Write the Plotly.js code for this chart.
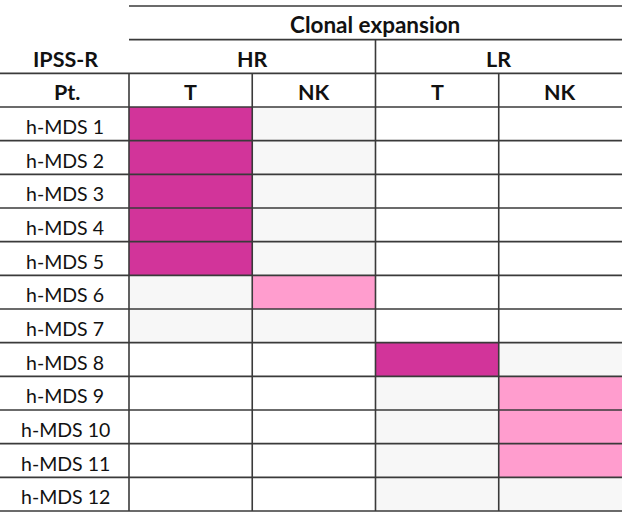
<!DOCTYPE html>
<html>
<head>
<meta charset="utf-8">
<script src="https://cdn.plot.ly/plotly-3.0.1.min.js"></script>
<style>html,body{margin:0;padding:0;background:#fff;}#chart{width:629px;height:515px;}</style>
</head>
<body>
<div id="chart"></div>
<script>
// ---- data ----
const patients = ["h-MDS 1","h-MDS 2","h-MDS 3","h-MDS 4","h-MDS 5","h-MDS 6","h-MDS 7","h-MDS 8","h-MDS 9","h-MDS 10","h-MDS 11","h-MDS 12"];
const riskGroups = ["HR","LR"];
const cellTypes = ["T","NK","T","NK"];
// cell state per column: 0 = blank, 1 = shaded (group), 2 = NK expansion, 3 = T expansion
const hrT  = [3,3,3,3,3,1,1,0,0,0,0,0];
const hrNK = [1,1,1,1,1,2,1,0,0,0,0,0];
const lrT  = [0,0,0,0,0,0,0,3,1,1,1,1];
const lrNK = [0,0,0,0,0,0,0,1,2,2,2,1];
const headerTitle = "Clonal expansion";
const groupLabel = "IPSS-R";
const rowHeader = "Pt.";

// ---- build ----
const cols = [hrT, hrNK, lrT, lrNK];
const nRows = patients.length, nCols = cols.length;
const z = patients.map((_, r) => cols.map(c => c[r]));
const cs = [[0,"#ffffff"],[0.25,"#ffffff"],[0.25,"#f7f7f7"],[0.5,"#f7f7f7"],[0.5,"#ff9dce"],[0.75,"#ff9dce"],[0.75,"#d2349a"],[1,"#d2349a"]];

const trace = {
  type: "heatmap",
  z: z,
  x: [0,1,2,3],
  y: patients.map((_, i) => i),
  zmin: -0.5, zmax: 3.5,
  colorscale: cs,
  showscale: false,
  hoverinfo: "skip",
  xgap: 0, ygap: 0
};

// axis geometry (units: one cell per unit)
const xr = [-1.5467, 3.557];
const yr = [11.619, -3.678];
const xLeft = xr[0];
const lineColor = "#3a3a3a";
const lw = 1.6;
const shapes = [];
function hline(y, x0, x1) { shapes.push({type:"line", xref:"x", yref:"y", x0:x0, x1:x1, y0:y, y1:y, line:{color:lineColor, width:lw}}); }
function vline(x, y0, y1) { shapes.push({type:"line", xref:"x", yref:"y", x0:x, x1:x, y0:y0, y1:y1, line:{color:lineColor, width:lw}}); }
hline(-3.5, -0.5, nCols - 0.5);
hline(-2.5, -0.5, nCols - 0.5);
hline(-1.5, xLeft, nCols - 0.5);
for (let r = 0; r <= nRows; r++) hline(r - 0.5, xLeft, nCols - 0.5);
vline(-0.5, -1.5, nRows - 0.5);
vline(0.5, -1.5, nRows - 0.5);
vline(1.5, -2.5, nRows - 0.5);
vline(2.5, -1.5, nRows - 0.5);

const fontFam = "Lato, 'Liberation Sans', sans-serif";
const labelX = xLeft + 65 / 123.25;
const annotations = [];
function ann(x, y, text, bold, size) {
  annotations.push({x:x, y:y, xref:"x", yref:"y", text: bold ? "<b>"+text+"</b>" : text, showarrow:false,
    xanchor:"center", yanchor:"middle", font:{family:fontFam, size:size, color:"#111"}});
}
patients.forEach((p, i) => ann(labelX, i + 0.08, p, false, 19.5));
ann(labelX + 0.02, -1 + 0.06, rowHeader, true, 21.5);
ann(labelX, -2 + 0.06, groupLabel, true, 21.5);
ann(1.5, -3 + 0.06, headerTitle, true, 22.5);
riskGroups.forEach((g, i) => ann(i * 2 + 0.5, -2 + 0.06, g, true, 21.5));
cellTypes.forEach((t, i) => ann(i, -1 + 0.06, t, true, 21.5));

const layout = {
  width: 629, height: 515,
  margin: {l:0, r:0, t:0, b:0},
  paper_bgcolor: "#ffffff", plot_bgcolor: "#ffffff",
  xaxis: {range: xr, visible: false, fixedrange: true},
  yaxis: {range: yr, visible: false, fixedrange: true},
  shapes: shapes,
  annotations: annotations,
  showlegend: false
};
Plotly.newPlot("chart", [trace], layout, {staticPlot: true, displayModeBar: false});
</script>
</body>
</html>
